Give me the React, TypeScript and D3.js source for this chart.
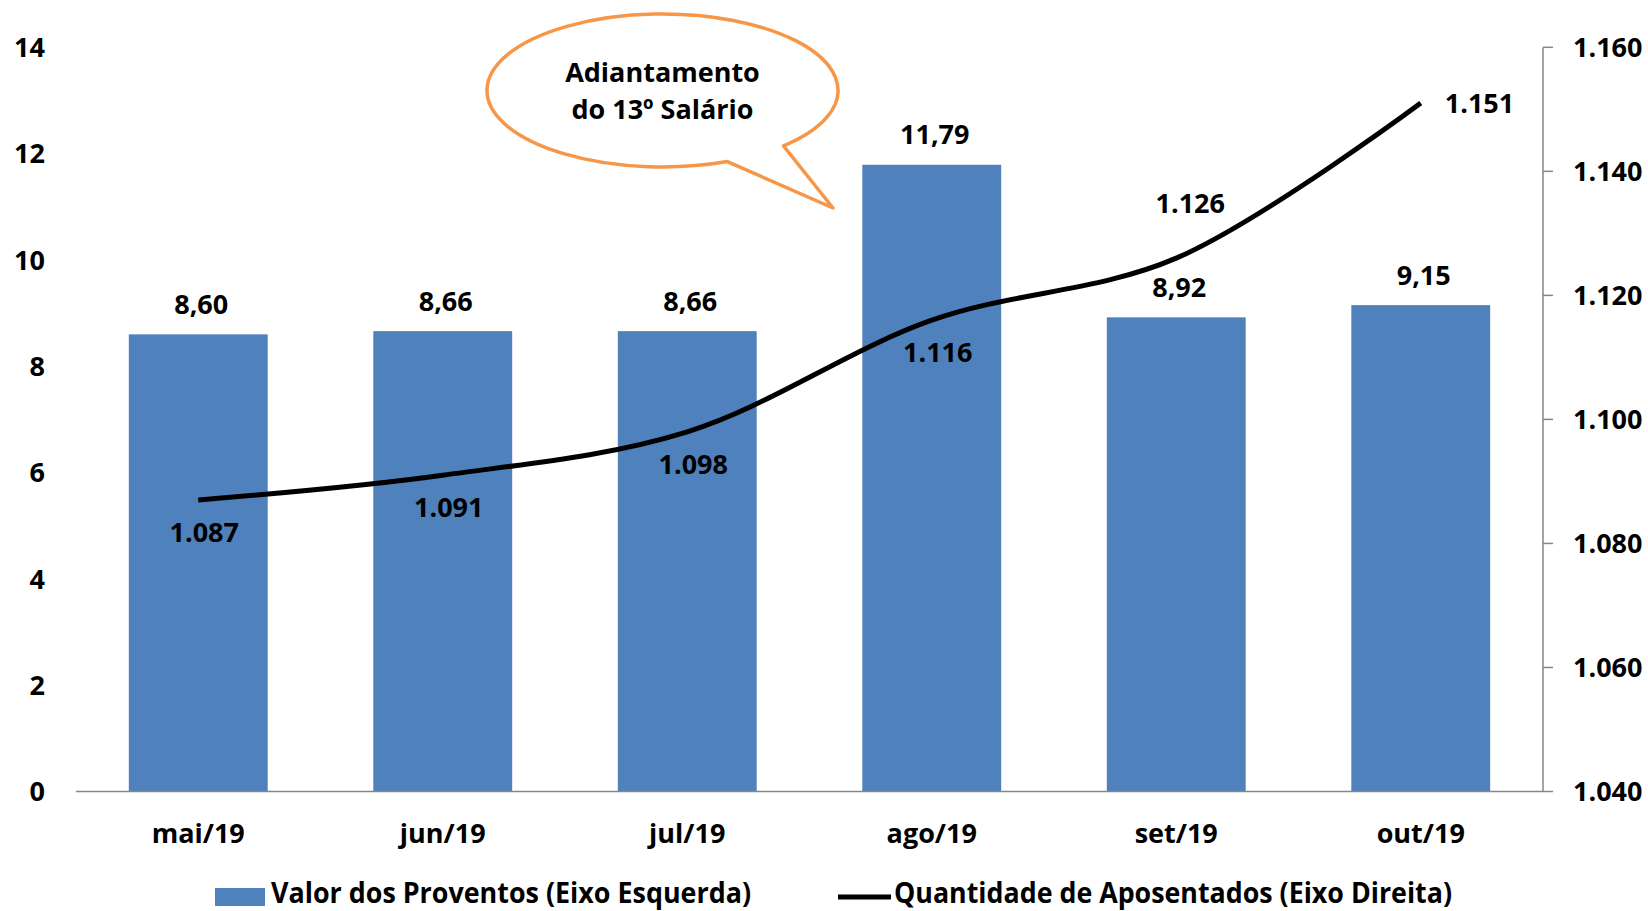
import React from "react";
import * as d3 from "d3";

const categories = ["mai/19", "jun/19", "jul/19", "ago/19", "set/19", "out/19"];
const proventos = [8.6, 8.66, 8.66, 11.79, 8.92, 9.15];
const aposentados = [1087, 1091, 1098, 1116, 1126, 1151];
const lineLabelPlacement = ["below", "below", "below", "below", "above", "right"];
const leftTicks = [0, 2, 4, 6, 8, 10, 12, 14];
const rightTicks = [1040, 1060, 1080, 1100, 1120, 1140, 1160];
const calloutLines = ["Adiantamento", "do 13º Salário"];
const legendLabels = ["Valor dos Proventos (Eixo Esquerda)", "Quantidade de Aposentados (Eixo Direita)"];

const W = 1648;
const H = 911;
const left = 76;
const right = 1543;
const top = 47.3;
const bottom = 791.5;

const ptBR = d3.formatLocale({ decimal: ",", thousands: ".", grouping: [3], currency: ["R$", ""] });
const fmtInt = ptBR.format(",.0f");
const fmtDec = ptBR.format(",.2f");

const calibri = "'Open Sans', 'Noto Sans', sans-serif";

export default function App() {
  const x = d3.scaleBand<string>().domain(categories).range([left, right]).padding(0);
  const barW = x.bandwidth() * 0.568;
  const cx = (c: string) => (x(c) as number) + x.bandwidth() / 2;
  const yL = d3.scaleLinear().domain([0, 14]).range([bottom, top]);
  const yR = d3.scaleLinear().domain([1040, 1160]).range([bottom, top]);

  const pts: [number, number][] = categories.map((c, i) => [cx(c), yR(aposentados[i])]);
  const line = d3.line().curve(d3.curveCatmullRom.alpha(0.5))(pts) || "";

  // callout geometry
  const ex = 662.5, ey = 90.5, erx = 175.5, ery = 76.5;
  const tailA = [725, 159];
  const tailTip = [833, 208];
  const tailB = [781.5, 145];
  const angA = Math.atan2((tailA[1] - ey) / ery, (tailA[0] - ex) / erx);
  const angB = Math.atan2((tailB[1] - ey) / ery, (tailB[0] - ex) / erx);
  const pA = [ex + erx * Math.cos(angA), ey + ery * Math.sin(angA)];
  const pB = [ex + erx * Math.cos(angB), ey + ery * Math.sin(angB)];
  const calloutPath = `M${pB[0]},${pB[1]} L${tailTip[0]},${tailTip[1]} L${pA[0]},${pA[1]} A${erx},${ery} 0 1 1 ${pB[0]},${pB[1]} Z`;

  return (
    <svg width={W} height={H} style={{ position: "absolute", left: 0, top: 0, background: "#fff" }}>
      {/* bars */}
      {categories.map((c, i) => (
        <rect key={c} x={cx(c) - barW / 2} y={yL(proventos[i])} width={barW} height={bottom - yL(proventos[i])} fill="#4F81BD" />
      ))}
      {/* bottom axis */}
      <line x1={left} x2={right} y1={bottom} y2={bottom} stroke="#868686" strokeWidth={1.5} />
      {/* right axis */}
      <line x1={right} x2={right} y1={top} y2={bottom} stroke="#868686" strokeWidth={1.5} />
      {rightTicks.map((t) => (
        <g key={t}>
          <line x1={right} x2={right + 10} y1={yR(t)} y2={yR(t)} stroke="#868686" strokeWidth={1.5} />
          <text x={1573} y={yR(t)} dy="0.36em" fontFamily={calibri} fontWeight="bold" fontSize={27} fill="#000">
            {fmtInt(t)}
          </text>
        </g>
      ))}
      {leftTicks.map((t) => (
        <text key={t} x={45} y={yL(t)} dy="0.36em" textAnchor="end" fontFamily={calibri} fontWeight="bold" fontSize={27} fill="#000">
          {t}
        </text>
      ))}
      {/* category labels */}
      {categories.map((c) => (
        <text key={c} x={cx(c)} y={833} dy="0.36em" textAnchor="middle" fontFamily={calibri} fontWeight="bold" fontSize={27} fill="#000">
          {c}
        </text>
      ))}
      {/* bar labels */}
      {categories.map((c, i) => (
        <text key={c} x={cx(c) + 3} y={yL(proventos[i]) - 30} dy="0.36em" textAnchor="middle" fontFamily={calibri} fontWeight="bold" fontSize={27} fill="#000">
          {fmtDec(proventos[i])}
        </text>
      ))}
      {/* line */}
      <path d={line} fill="none" stroke="#000" strokeWidth={5} />
      {categories.map((c, i) => {
        const p = lineLabelPlacement[i];
        const px = cx(c);
        const py = yR(aposentados[i]);
        const lx = p === "right" ? px + 24 : p === "above" ? px + 14 : px + 6;
        const ly = p === "below" ? py + 32 : p === "above" ? py - 55 : py;
        return (
          <text key={c} x={lx} y={ly} dy="0.36em" textAnchor={p === "right" ? "start" : "middle"} fontFamily={calibri} fontWeight="bold" fontSize={27} fill="#000">
            {fmtInt(aposentados[i])}
          </text>
        );
      })}
      {/* callout */}
      <path d={calloutPath} fill="#fff" stroke="#F79646" strokeWidth={3.5} strokeLinejoin="round" />
      {calloutLines.map((t, i) => (
        <text key={t} x={ex} y={82 + i * 36.5} textAnchor="middle" fontFamily={calibri} fontWeight="bold" fontSize={27} fill="#000">
          {t}
        </text>
      ))}
      {/* legend */}
      <rect x={215} y={888} width={50} height={18} fill="#4F81BD" />
      <text x={271} y={903} fontFamily={calibri} fontWeight="bold" fontSize={28} textLength={480} lengthAdjust="spacingAndGlyphs" fill="#000">
        {legendLabels[0]}
      </text>
      <line x1={838} x2={891} y1={897} y2={897} stroke="#000" strokeWidth={5} />
      <text x={894} y={903} fontFamily={calibri} fontWeight="bold" fontSize={28} textLength={558} lengthAdjust="spacingAndGlyphs" fill="#000">
        {legendLabels[1]}
      </text>
    </svg>
  );
}
